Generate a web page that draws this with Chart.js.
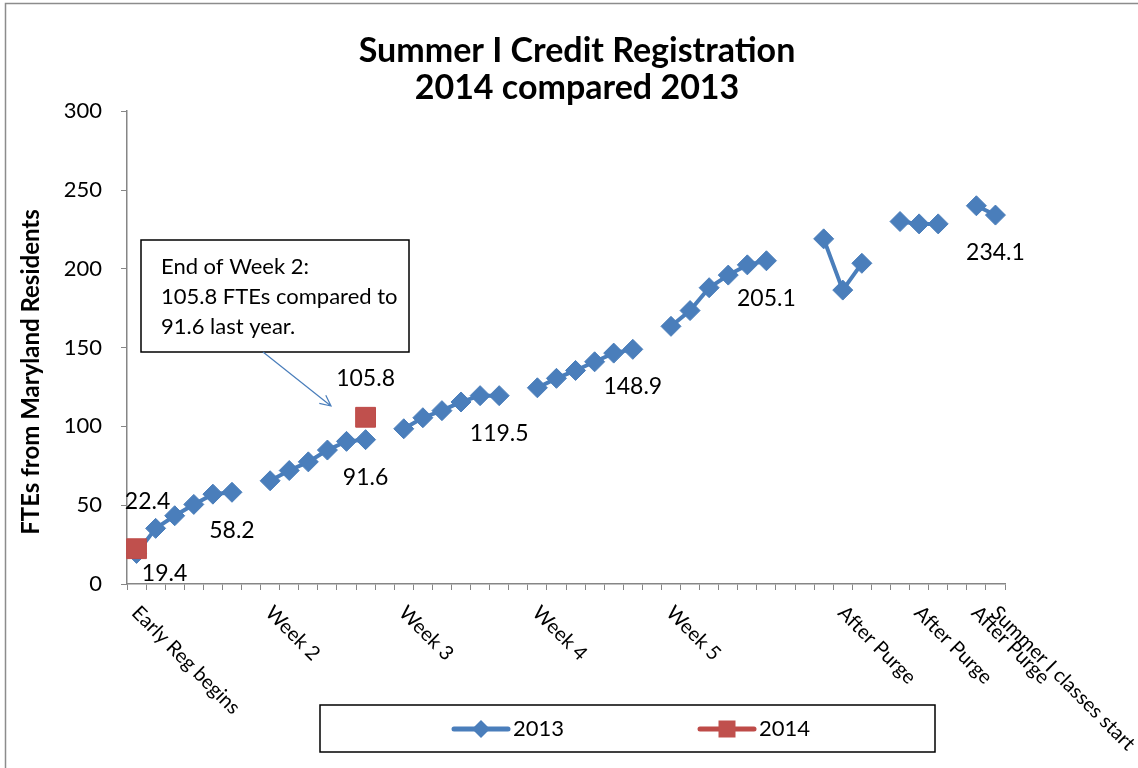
<!DOCTYPE html>
<html>
<head>
<meta charset="utf-8">
<title>Summer I Credit Registration</title>
<script src="https://cdn.jsdelivr.net/npm/chart.js@4"></script>
<style>
  html, body { margin: 0; padding: 0; background: #fff; }
  canvas { display: block; }
</style>
</head>
<body>
<canvas id="regChart" width="1138" height="768"></canvas>
<script>
const labels = [
  'Early Reg begins', '', '', '', '', '', '',
  'Week 2', '', '', '', '', '', '',
  'Week 3', '', '', '', '', '', '',
  'Week 4', '', '', '', '', '', '',
  'Week 5', '', '', '', '', '', '', '', '',
  'After Purge', '', '', '',
  'After Purge', '', '',
  'After Purge',
  'Summer I classes start',
];

const fte2013 = [
  19.4, 35.3, 43.3, 50.5, 57, 58.2, null,
  65.5, 72, 77.5, 85, 90.5, 91.6, null,
  98.5, 105.5, 110, 115.5, 119.5, 119.5, null,
  124.5, 130.5, 135.5, 141, 146.5, 148.9, null,
  163.5, 173.5, 188, 196, 202.5, 205.1, null, null,
  219, 186.5, 203.5, null,
  230, 228.5, 228.5, null,
  240, 234.1,
];

const fte2014 = [
  22.4, null, null, null, null, null, null,
  null, null, null, null, null, 105.8,
];

const seriesNames = ['2013', '2014'];

const calloutLines = [
  'End of Week 2:',
  '105.8 FTEs compared to',
  '91.6 last year.',
];

// which points get a value label, and where it sits relative to the point
const valueLabels = [
  { ds: 0, i: 0, dx: 28, dy: 20 },
  { ds: 1, i: 0, dx: 11, dy: -47 },
  { ds: 0, i: 5, dx: 0, dy: 38 },
  { ds: 0, i: 12, dx: 0, dy: 38 },
  { ds: 1, i: 12, dx: 0, dy: -39 },
  { ds: 0, i: 19, dx: 0, dy: 38 },
  { ds: 0, i: 26, dx: 0, dy: 37 },
  { ds: 0, i: 33, dx: 0, dy: 38 },
  { ds: 0, i: 45, dx: 0, dy: 38 },
];

const FONT = 'Lato';

const frame = {
  id: 'frame',
  beforeDraw(chart) {
    const ctx = chart.ctx;
    ctx.save();
    ctx.fillStyle = '#fff';
    ctx.fillRect(0, 0, chart.width, chart.height);
    ctx.strokeStyle = '#8c8c8c';
    ctx.lineWidth = 1.5;
    ctx.strokeRect(5.5, 3.5, chart.width + 20, chart.height + 20);
    ctx.restore();
  }
};

const extras = {
  id: 'extras',
  afterDatasetsDraw(chart) {
    const ctx = chart.ctx;
    ctx.save();
    ctx.fillStyle = '#000';
    ctx.font = '23px ' + FONT;
    ctx.textAlign = 'center';
    ctx.textBaseline = 'middle';
    valueLabels.forEach(l => {
      const pt = chart.getDatasetMeta(l.ds).data[l.i];
      const v = chart.data.datasets[l.ds].data[l.i];
      ctx.fillText(v.toFixed(1), pt.x + l.dx, pt.y + l.dy);
    });
    ctx.restore();
  },
  afterDraw(chart) {
    const ctx = chart.ctx;
    const xs = chart.scales.x;
    ctx.save();
    ctx.fillStyle = '#000';

    // rotated category labels
    ctx.font = '20px ' + FONT;
    ctx.textAlign = 'left';
    ctx.textBaseline = 'alphabetic';
    labels.forEach((t, i) => {
      if (!t) return;
      const x = xs.getPixelForValue(i);
      ctx.save();
      ctx.translate(x - 6, xs.top + 30);
      ctx.rotate(Math.PI / 4);
      ctx.fillText(t, 0, 0);
      ctx.restore();
    });

    // y axis title
    ctx.font = 'bold 24px ' + FONT;
    ctx.textAlign = 'center';
    ctx.save();
    ctx.translate(39, 372);
    ctx.rotate(-Math.PI / 2);
    ctx.fillText('FTEs from Maryland Residents', 0, 0);
    ctx.restore();

    // callout box + arrow
    ctx.strokeStyle = '#000';
    ctx.lineWidth = 1.5;
    ctx.fillStyle = '#fff';
    ctx.fillRect(141, 240, 268, 112);
    ctx.strokeRect(141, 240, 268, 112);
    ctx.fillStyle = '#000';
    ctx.font = '22px ' + FONT;
    ctx.textAlign = 'left';
    ctx.textBaseline = 'middle';
    calloutLines.forEach((t, k) => ctx.fillText(t, 161, 267 + k * 30));

    const ax0 = 263, ay0 = 352, ax1 = 331, ay1 = 406;
    const ang = Math.atan2(ay1 - ay0, ax1 - ax0);
    ctx.strokeStyle = '#4A7EBB';
    ctx.lineWidth = 1.2;
    ctx.beginPath();
    ctx.moveTo(ax0, ay0);
    ctx.lineTo(ax1, ay1);
    ctx.moveTo(ax1 - 12 * Math.cos(ang - 0.45), ay1 - 12 * Math.sin(ang - 0.45));
    ctx.lineTo(ax1, ay1);
    ctx.lineTo(ax1 - 12 * Math.cos(ang + 0.45), ay1 - 12 * Math.sin(ang + 0.45));
    ctx.stroke();

    // legend
    ctx.strokeStyle = '#000';
    ctx.lineWidth = 1.5;
    ctx.strokeRect(320, 705, 615, 47);
    const items = [
      { sx: 454, tx: 513 },
      { sx: 700, tx: 759 },
    ];
    chart.data.datasets.forEach((ds, k) => {
      const it = items[k];
      const cy = 729;
      ctx.strokeStyle = ds.borderColor;
      ctx.lineWidth = 5;
      ctx.lineCap = 'round';
      ctx.beginPath();
      ctx.moveTo(it.sx, cy);
      ctx.lineTo(it.sx + 54, cy);
      ctx.stroke();
      ctx.fillStyle = ds.backgroundColor;
      const mx = it.sx + 27;
      ctx.beginPath();
      if (ds.pointStyle === 'rectRot') {
        ctx.moveTo(mx - 9, cy); ctx.lineTo(mx, cy - 9);
        ctx.lineTo(mx + 9, cy); ctx.lineTo(mx, cy + 9);
        ctx.closePath();
      } else {
        ctx.rect(mx - 8.5, cy - 8.5, 17, 17);
      }
      ctx.fill();
      ctx.fillStyle = '#000';
      ctx.font = '22px ' + FONT;
      ctx.textAlign = 'left';
      ctx.fillText(ds.label, it.tx, cy);
    });
    ctx.restore();
  }
};

new Chart(document.getElementById('regChart'), {
  type: 'line',
  data: {
    labels: labels,
    datasets: [
      {
        label: seriesNames[0],
        data: fte2013,
        borderColor: '#4A7EBB',
        backgroundColor: '#4A7EBB',
        borderWidth: 4,
        pointStyle: 'rectRot',
        pointRadius: 10,
        pointBorderWidth: 1,
        spanGaps: false,
        order: 2,
      },
      {
        label: seriesNames[1],
        data: fte2014,
        borderColor: '#BE4B48',
        backgroundColor: '#C0504D',
        borderWidth: 4,
        pointStyle: 'rect',
        pointRadius: 14,
        pointBorderWidth: 1,
        order: 1,
      },
    ],
  },
  options: {
    responsive: false,
    animation: false,
    layout: { padding: { top: 0, right: 0, left: 16, bottom: 0 } },
    plugins: {
      legend: { display: false },
      tooltip: { enabled: false },
      title: {
        display: true,
        text: ['Summer I Credit Registration', '2014 compared 2013'],
        color: '#000',
        font: { family: FONT, size: 34, weight: 'bold', lineHeight: 1.106 },
        padding: { top: 32, bottom: 4 },
      },
    },
    scales: {
      x: {
        offset: true,
        grid: { offset: true, drawOnChartArea: false, drawTicks: true, tickLength: 6, color: '#868686' },
        border: { color: '#868686', width: 1.5 },
        ticks: { display: false, autoSkip: false },
        afterFit(s) { s.height = 184; },
      },
      y: {
        min: 0,
        max: 300,
        ticks: { stepSize: 50, color: '#000', font: { family: FONT, size: 22 }, padding: 19 },
        grid: { drawOnChartArea: false, drawTicks: true, tickLength: 6, color: '#868686' },
        border: { color: '#868686', width: 1.5 },
        afterFit(s) { s.width = 111; },
      },
      // empty right-hand spacer so the plot ends where the reference's does
      spacer: {
        type: 'linear',
        position: 'right',
        display: true,
        grid: { display: false },
        border: { display: false },
        ticks: { display: false },
        afterFit(s) { s.width = 133; },
      },
    },
  },
  plugins: [frame, extras],
});
</script>
</body>
</html>
